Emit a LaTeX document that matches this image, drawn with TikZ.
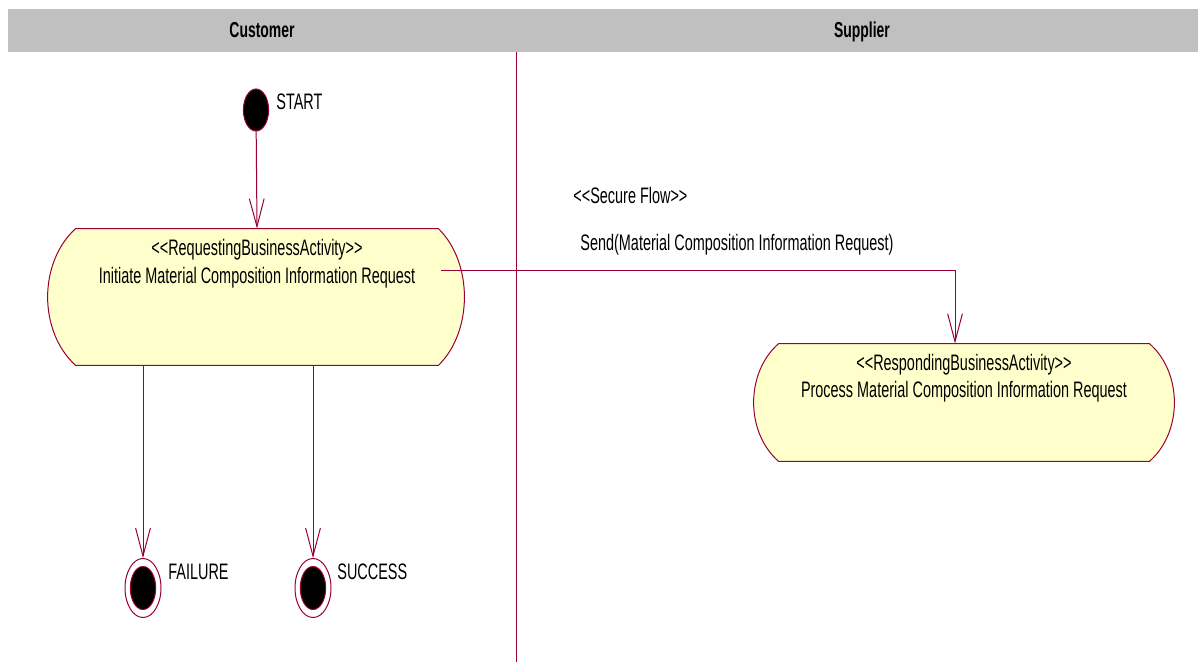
\documentclass[tikz,border=0pt]{standalone}
\usepackage{fontspec}
\setmainfont{Liberation Sans}[FakeStretch=0.645]
\usetikzlibrary{arrows.meta}
\usetikzlibrary{shapes.geometric}
\definecolor{flowred}{RGB}{153,0,51}
\definecolor{actfill}{RGB}{255,255,204}
\definecolor{lanegray}{RGB}{192,192,192}
\tikzset{
  flow/.style={draw=flowred,line width=0.5pt,-{Straight Barb[length=14pt,width=7.4pt]}},
  actbox/.style={draw=none,inner sep=0pt},
  actshape/.style={draw=flowred,fill=actfill,line width=0.5pt},
  lbl/.style={inner sep=0pt,text height=8pt,text depth=2.3pt,font=\fontsize{11.2}{13}\selectfont},
  lanelbl/.style={inner sep=0pt,text height=8pt,text depth=2.3pt,font=\fontsize{10.8}{13}\selectfont\bfseries},
  initstate/.style={ellipse,draw=flowred,fill=black,line width=0.5pt,inner sep=0pt,minimum width=12.6pt,minimum height=21pt},
  finalstate/.style={ellipse,draw=flowred,fill=white,line width=0.5pt,inner sep=0pt,minimum width=18pt,minimum height=29.5pt},
  finaldot/.style={ellipse,draw=flowred,fill=black,line width=0.5pt,inner sep=0pt,minimum width=12.7pt,minimum height=21.5pt}
}
\begin{document}
\begin{tikzpicture}[x=0.5pt,y=0.5pt,yscale=-1,xscale=1]
\useasboundingbox (0,0) rectangle (1198,662);

%Swimlane header
\fill [lanegray] (8,9) rectangle (1198,52);
\node [lanelbl] (custlane) at (262,32) {Customer};
\node [lanelbl] (supplane) at (862,32) {Supplier};
%Straight Lines [id:lanesep]
\draw [flowred,line width=0.5pt] (516,52) -- (516,662);

%Shape: Ellipse [id:start]
\node [initstate] (start) at (256,110) {};
\node [lbl,anchor=west] (startlbl) at (276,104) {START};

%Shape: Activity [id:act1]
\node [actbox,minimum width=181pt,minimum height=68pt] (act1) at (257,297) {};
\draw [actshape] (act1.north west) -- (act1.north east) .. controls +(34.7,34) and +(34.7,-34) .. (act1.south east) -- (act1.south west) .. controls +(-37.3,-34) and +(-37.3,34) .. (act1.north west) -- cycle ;
\node [lbl] (act1st) at (257,250) {<{}<RequestingBusinessActivity>{}>};
\node [lbl] (act1name) at (257,278) {Initiate Material Composition Information Request};

%Shape: Activity [id:act2]
\node [actbox,minimum width=185pt,minimum height=58.5pt] (act2) at (964,402.5) {};
\draw [actshape] (act2.north west) -- (act2.north east) .. controls +(33.3,29) and +(33.3,-29) .. (act2.south east) -- (act2.south west) .. controls +(-33.3,-29) and +(-33.3,29) .. (act2.north west) -- cycle ;
\node [lbl] (act2st) at (964,365) {<{}<RespondingBusinessActivity>{}>};
\node [lbl] (act2name) at (964,392) {Process Material Composition Information Request};

%Shape: Final states
\node [finalstate] (fail) at (143,588) {};
\node [finaldot] (faildot) at (fail) {};
\node [lbl,anchor=west] (faillbl) at (168,574) {FAILURE};
\node [finalstate] (succ) at (313,588) {};
\node [finaldot] (succdot) at (succ) {};
\node [lbl,anchor=west] (succlbl) at (337,574) {SUCCESS};

%Flows
\draw [flow] (start) -- (act1.north);
\draw [flow] (act1.south -| fail) -- (fail);
\draw [flow] (act1.south -| succ) -- (succ);
\draw [flow] (act1.north east) ++(3,42) -| ([xshift=-4.5pt]act2.north);
\node [lbl,anchor=west] (flowst) at (573,198) {<{}<Secure Flow>{}>};
\node [lbl,anchor=west] (flowlbl) at (580,245) {Send(Material Composition Information Request)};

\end{tikzpicture}
\end{document}
